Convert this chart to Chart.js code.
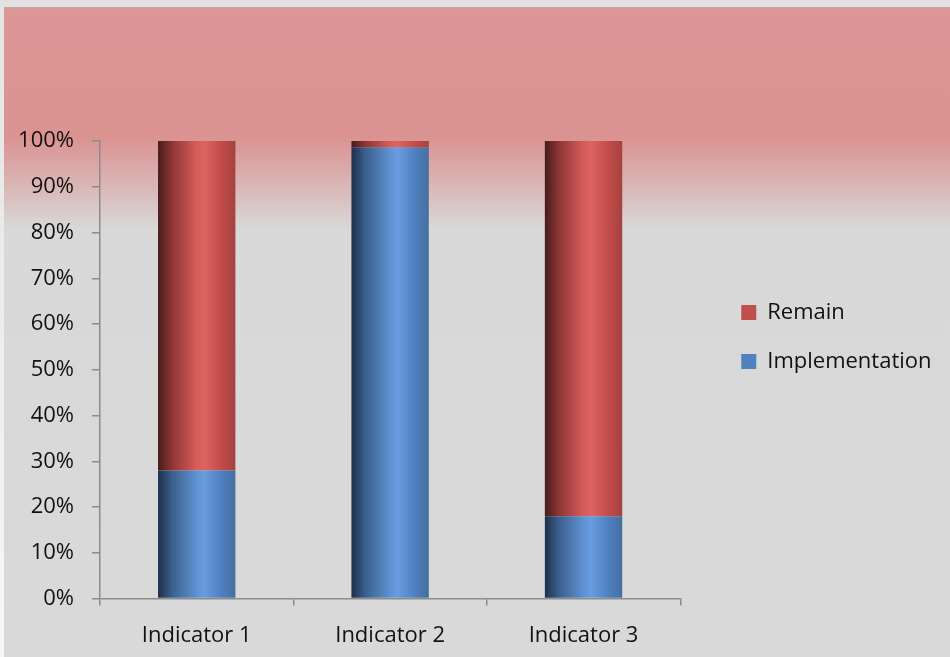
<!DOCTYPE html>
<html>
<head>
<meta charset="utf-8">
<script src="https://cdn.jsdelivr.net/npm/chart.js@4.4.1/dist/chart.umd.min.js"></script>
<style>
  html, body { margin: 0; padding: 0; background: #e4e4e4; }
  #wrap { width: 950px; height: 657px; position: relative; }
</style>
</head>
<body>
<div id="wrap"><canvas id="chart"></canvas></div>
<script>
// data (percent of each indicator)
let indicators = ['Indicator 1', 'Indicator 2', 'Indicator 3'];
let implementation = [28, 98.6, 18];
let remain = [72, 1.4, 82];
let yTicks = [0, 10, 20, 30, 40, 50, 60, 70, 80, 90, 100];

const FONT = '"Open Sans", Lato, sans-serif';

// horizontal shading across each bar, like the cylinder-ish office style
function barShade(stops, flat) {
  return function (c) {
    let chart = c.chart;
    let xs = chart.scales.x;
    if (!xs || !chart.chartArea || c.dataIndex === undefined) return flat;
    let cx = xs.getPixelForValue(c.dataIndex);
    let half = (xs.width / indicators.length) * 0.4 / 2;
    let g = chart.ctx.createLinearGradient(cx - half, 0, cx + half, 0);
    stops.forEach(s => g.addColorStop(s[0], s[1]));
    return g;
  };
}

let redStops = [[0, '#461c1c'], [0.18, '#8c3634'], [0.5, '#d65c5a'], [0.6, '#dd6361'], [0.82, '#c24c4a'], [1, '#a5423f']];
let blueStops = [[0, '#1c304b'], [0.18, '#3b5f8c'], [0.5, '#5f92d2'], [0.6, '#689de0'], [0.82, '#4f7fbf'], [1, '#44709f']];

// page background: light frame plus pink-to-grey fill
const backdrop = {
  id: 'backdrop',
  beforeDraw(chart) {
    let ctx = chart.ctx;
    let w = chart.width, h = chart.height;
    ctx.save();
    let side = ctx.createLinearGradient(0, 0, 0, h);
    side.addColorStop(0, '#e3e3e3');
    side.addColorStop(1, '#f7f7f7');
    ctx.fillStyle = side;
    ctx.fillRect(0, 0, w, h);
    ctx.fillStyle = '#e2e2e2';
    ctx.fillRect(0, 0, w, 7);
    let g = ctx.createLinearGradient(0, 7, 0, h);
    g.addColorStop(0, '#db9695');
    g.addColorStop(130 / 650, '#da9391');
    g.addColorStop(175 / 650, '#dab3b3');
    g.addColorStop(222 / 650, '#d9d8d8');
    g.addColorStop(1, '#d9d9d9');
    ctx.fillStyle = g;
    ctx.fillRect(4, 7, w - 4, h - 7);
    ctx.fillStyle = '#b9aca6';
    ctx.fillRect(4, 7, w - 4, 1);
    ctx.restore();
  }
};

// push the legend a bit to the right of the plot, leaving a gap
const legendGap = {
  id: 'legendGap',
  afterLayout(chart) {
    let lg = chart.legend;
    if (!lg) return;
    lg.left += 34;
    lg.right += 34;
  }
};

new Chart(document.getElementById('chart'), {
  type: 'bar',
  data: {
    labels: indicators,
    datasets: [
      {
        label: 'Implementation',
        data: implementation,
        backgroundColor: barShade(blueStops, '#4f81bd'),
        categoryPercentage: 0.8,
        barPercentage: 0.5
      },
      {
        label: 'Remain',
        data: remain,
        backgroundColor: barShade(redStops, '#c0504d'),
        categoryPercentage: 0.8,
        barPercentage: 0.5
      }
    ]
  },
  options: {
    responsive: true,
    maintainAspectRatio: false,
    animation: false,
    layout: { padding: { top: 141, right: 43, bottom: 0, left: 0 } },
    scales: {
      x: {
        stacked: true,
        grid: { display: true, drawOnChartArea: false, drawTicks: true, tickLength: 7, color: '#8c8c8c', lineWidth: 1.5 },
        border: { display: true, color: '#8c8c8c', width: 1.5 },
        ticks: { color: '#111', font: { family: FONT, size: 22 }, padding: 17 },
        afterFit(scale) { scale.height = 58.5; }
      },
      y: {
        stacked: true,
        min: 0,
        max: 100,
        afterBuildTicks(scale) { scale.ticks = yTicks.map(v => ({ value: v })); },
        grid: { display: true, drawOnChartArea: false, drawTicks: true, tickLength: 8, color: '#8c8c8c', lineWidth: 1.5 },
        border: { display: true, color: '#8c8c8c', width: 1.5 },
        ticks: { color: '#111', font: { family: FONT, size: 22 }, padding: 18, callback: v => v + '%' },
        afterFit(scale) { scale.width = 100; }
      }
    },
    plugins: {
      tooltip: { enabled: false },
      legend: {
        position: 'right',
        align: 'start',
        reverse: true,
        title: { display: true, text: '', padding: { top: 119, bottom: 0 } },
        labels: {
          color: '#111',
          font: { family: FONT, size: 22 },
          boxWidth: 15,
          boxHeight: 15,
          padding: 27,
          generateLabels(chart) {
            let items = Chart.defaults.plugins.legend.labels.generateLabels(chart);
            items.forEach(it => {
              it.fillStyle = it.datasetIndex === 0 ? '#4f81bd' : '#c0504d';
              it.strokeStyle = it.fillStyle;
              it.lineWidth = 0;
            });
            return items;
          }
        }
      }
    }
  },
  plugins: [backdrop, legendGap]
});
</script>
</body>
</html>
